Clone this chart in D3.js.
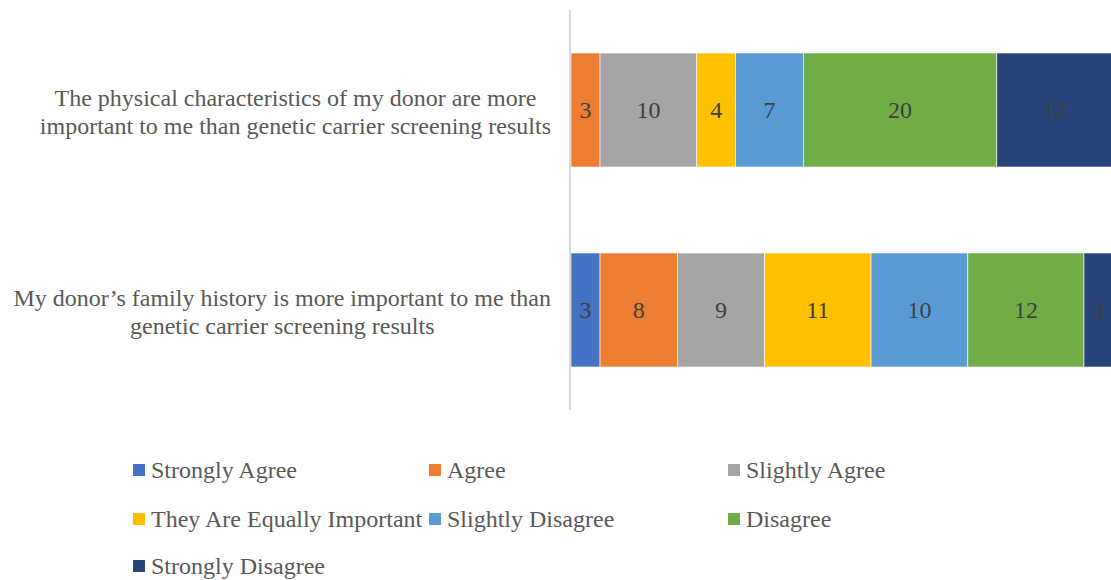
<!DOCTYPE html>
<html>
<head>
<meta charset="utf-8">
<script src="https://cdn.jsdelivr.net/npm/d3@7"></script>
<style>
  body { margin: 0; background: #fff; }
  svg { display: block; font-family: "Liberation Serif", "Times New Roman", serif; }
</style>
</head>
<body>
<div id="chart"></div>
<script>
// Data
const questions = [
  ["The physical characteristics of my donor are more", "important to me than genetic carrier screening results"],
  ["My donor\u2019s family history is more important to me than", "genetic carrier screening results"]
];
const responses = ["Strongly Agree", "Agree", "Slightly Agree", "They Are Equally Important",
  "Slightly Disagree", "Disagree", "Strongly Disagree"];
const physicalVals = [0, 3, 10, 4, 7, 20, 12];
const familyVals = [3, 8, 9, 11, 10, 12, 3];
const colors = ["#4472c4", "#ed7d31", "#a5a5a5", "#ffc000", "#5b9bd5", "#70ad47", "#264478"];

const width = 1111, height = 580;

const svg = d3.select("#chart")
  .append("svg")
  .attr("width", width)
  .attr("height", height);

const rows = [physicalVals, familyVals].map((vals, i) => {
  const row = {q: i};
  responses.forEach((r, j) => row[r] = vals[j]);
  return row;
});

const stacked = d3.stack().keys(responses)(rows);

// Scales
const x = d3.scaleLinear()
  .domain([0, 56])
  .range([571, 1113]);

const y = d3.scaleBand()
  .domain([0, 1])
  .range([10, 410])
  .paddingInner(0.43)
  .paddingOuter(0.215);

const color = d3.scaleOrdinal().domain(responses).range(colors);

// Bars
const layers = svg.append("g")
  .selectAll("g")
  .data(stacked)
  .join("g")
  .attr("fill", d => color(d.key));

layers.selectAll("rect")
  .data(d => d.map(s => ({key: d.key, s})))
  .join("rect")
  .attr("x", d => x(d.s[0]))
  .attr("y", d => y(d.s.data.q))
  .attr("width", d => x(d.s[1]) - x(d.s[0]))
  .attr("height", y.bandwidth())
  .attr("stroke", "#fff")
  .attr("stroke-width", 0.6);

// Value labels
layers.selectAll("text")
  .data(d => d.map(s => ({key: d.key, s})).filter(d => d.s[1] - d.s[0] > 0))
  .join("text")
  .attr("x", d => (x(d.s[0]) + x(d.s[1])) / 2)
  .attr("y", d => y(d.s.data.q) + y.bandwidth() / 2)
  .attr("dy", "0.35em")
  .attr("text-anchor", "middle")
  .attr("fill", "#404040")
  .style("font-size", "24px")
  .text(d => d.s[1] - d.s[0]);

// Vertical axis line
svg.append("line")
  .attr("x1", 570).attr("x2", 570)
  .attr("y1", 10).attr("y2", 410)
  .attr("stroke", "#d9d9d9")
  .attr("stroke-width", 2);

// Category labels (centred block, right edge at 551)
questions.forEach((lines, i) => {
  const g = svg.append("g");
  const cy = y(i) + y.bandwidth() / 2;
  const texts = lines.map((t, k) => g.append("text")
    .attr("y", cy + (k - (lines.length - 1) / 2) * 28 + 2)
    .attr("dy", "0.35em")
    .attr("text-anchor", "middle")
    .attr("fill", "#595959")
    .style("font-size", "24px")
    .text(t));
  const maxW = d3.max(texts, t => t.node().getComputedTextLength());
  texts.forEach(t => t.attr("x", 551 - maxW / 2));
});

// Legend
const legendCols = [133, 429, 728];
const legendRows = [470, 519, 566];
const legend = svg.append("g")
  .selectAll("g")
  .data(responses)
  .join("g")
  .attr("transform", (d, i) => `translate(${legendCols[i % 3]},${legendRows[Math.floor(i / 3)]})`);

legend.append("rect")
  .attr("x", 0).attr("y", -6)
  .attr("width", 12).attr("height", 12)
  .attr("fill", d => color(d));

legend.append("text")
  .attr("x", 18)
  .attr("dy", "0.35em")
  .attr("fill", "#595959")
  .style("font-size", "24px")
  .text(d => d);
</script>
</body>
</html>
